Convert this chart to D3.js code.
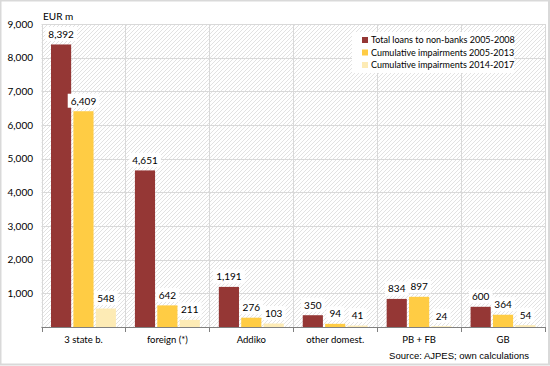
<!DOCTYPE html>
<html>
<head>
<meta charset="utf-8">
<script src="https://cdn.jsdelivr.net/npm/d3@7"></script>
<style>
  body { margin: 0; background: #fff; }
  svg { display: block; }
  .lbl { font-family: Lato, "Open Sans", sans-serif; font-size: 10px; fill: #000; }
</style>
</head>
<body>
<div id="chart"></div>
<script>
const categories = ["3 state b.", "foreign (*)", "Addiko", "other domest.", "PB + FB", "GB"];
const seriesNames = ["Total loans to non-banks 2005-2008", "Cumulative impairments 2005-2013", "Cumulative impairments 2014-2017"];
const totalLoans = [8392, 4651, 1191, 350, 834, 600];
const impair0513 = [6409, 642, 276, 94, 897, 364];
const impair1417 = [548, 211, 103, 41, 24, 54];
const yTicks = [0, 1000, 2000, 3000, 4000, 5000, 6000, 7000, 8000, 9000];
const colors = ["#953735", "#ffcc44", "#fdebb5"];

const width = 550, height = 366;
const margin = {left: 41.5, right: 5, top: 24, bottom: 39};
const series = [totalLoans, impair0513, impair1417];

const svg = d3.select("#chart").append("svg")
  .attr("width", width).attr("height", height);

// outer frame
svg.append("rect").attr("x", 0.5).attr("y", 0.5).attr("width", width - 1.5).attr("height", height - 2)
  .attr("fill", "#fff").attr("stroke", "#d9d9d9").attr("stroke-width", 2);

const defs = svg.append("defs");
const pat = defs.append("pattern").attr("id", "hatch").attr("patternUnits", "userSpaceOnUse")
  .attr("width", 4).attr("height", 4);
pat.append("rect").attr("width", 4).attr("height", 4).attr("fill", "#fff");
pat.append("path").attr("d", "M-1,1 l2,-2 M0,4 l4,-4 M3,5 l2,-2")
  .attr("stroke", "#e2e2e2").attr("stroke-width", 1);

const x = d3.scaleBand().domain(categories)
  .range([margin.left, width - margin.right]);
const y = d3.scaleLinear().domain([0, 9000]).range([height - margin.bottom, margin.top]);
const xs = d3.scaleBand().domain([0, 1, 2]).range([9.5, x.bandwidth() - 9.5]).paddingInner(0.1);

// plot background with hatching
svg.append("rect").attr("x", x.range()[0]).attr("y", y(9000))
  .attr("width", x.range()[1] - x.range()[0]).attr("height", y(0) - y(9000))
  .attr("fill", "url(#hatch)");

// grid
svg.append("g").selectAll("line").data(yTicks).join("line")
  .attr("x1", x.range()[0]).attr("x2", x.range()[1])
  .attr("y1", d => Math.round(y(d)) + 0.5).attr("y2", d => Math.round(y(d)) + 0.5)
  .attr("stroke", "#d9d9d9").attr("stroke-width", 1);
const bounds = categories.map(c => x(c)).concat([x.range()[1]]);
svg.append("g").selectAll("line").data(bounds).join("line")
  .attr("x1", d => Math.round(d) + 0.5).attr("x2", d => Math.round(d) + 0.5)
  .attr("y1", y(9000)).attr("y2", y(0))
  .attr("stroke", "#d9d9d9").attr("stroke-width", 1);

// bars
series.forEach((vals, s) => {
  svg.append("g").selectAll("rect").data(vals).join("rect")
    .attr("x", (d, i) => x(categories[i]) + xs(s))
    .attr("y", d => y(d))
    .attr("width", xs.bandwidth())
    .attr("height", d => y(0) - y(d))
    .attr("fill", colors[s]);
});

// value labels with white boxes
series.forEach((vals, s) => {
  const g = svg.append("g").selectAll("g").data(vals).join("g")
    .attr("transform", (d, i) => `translate(${x(categories[i]) + xs(s) + xs.bandwidth() / 2},${y(d) - 10})`);
  g.append("text").attr("class", "lbl")
    .attr("text-anchor", "middle").attr("dy", "0.35em")
    .text(d => d3.format(",")(d));
  g.each(function () {
    const bb = d3.select(this).select("text").node().getBBox();
    d3.select(this).insert("rect", "text")
      .attr("x", bb.x - 3).attr("y", bb.y - 1)
      .attr("width", bb.width + 6).attr("height", bb.height + 2)
      .attr("fill", "#fff");
  });
});

// x axis
const xAxis = svg.append("g").attr("transform", `translate(0,${y(0)})`);
xAxis.append("line").attr("x1", x.range()[0]).attr("x2", x.range()[1])
  .attr("y1", 0.5).attr("y2", 0.5).attr("stroke", "#808080");
xAxis.selectAll("line.tk").data(bounds).join("line").attr("class", "tk")
  .attr("x1", d => Math.round(d) + 0.5).attr("x2", d => Math.round(d) + 0.5)
  .attr("y1", 0).attr("y2", 5).attr("stroke", "#808080");
xAxis.selectAll("text").data(categories).join("text").attr("class", "lbl")
  .style("font-size", "9.5px")
  .attr("x", d => x(d) + x.bandwidth() / 2).attr("y", 16)
  .attr("text-anchor", "middle").text(d => d);

// y axis labels
svg.append("g").selectAll("text").data(yTicks.slice(1)).join("text").attr("class", "lbl")
  .attr("x", 33).attr("y", d => y(d)).attr("dy", "0.35em")
  .attr("text-anchor", "end").text(d => d3.format(",")(d));

svg.append("text").attr("class", "lbl").attr("x", 43).attr("y", 20).text("EUR m");

// legend
const lg = svg.append("g").attr("transform", "translate(352,32)");
lg.append("rect").attr("width", 162).attr("height", 41).attr("fill", "#fff");
const li = lg.selectAll("g").data(seriesNames).join("g")
  .attr("transform", (d, i) => `translate(0,${8 + i * 12.5})`);
li.append("rect").attr("x", 10).attr("y", -3).attr("width", 6).attr("height", 6)
  .attr("fill", (d, i) => colors[i]);
li.append("text").attr("class", "lbl").style("font-size", "9px")
  .attr("x", 19).attr("dy", "0.35em").text(d => d);

svg.append("text").attr("x", 529).attr("y", 359).attr("text-anchor", "end")
  .style("font-family", "'Liberation Sans', Arial, sans-serif").style("font-size", "9.5px")
  .text("Source: AJPES; own calculations");
</script>
</body>
</html>
